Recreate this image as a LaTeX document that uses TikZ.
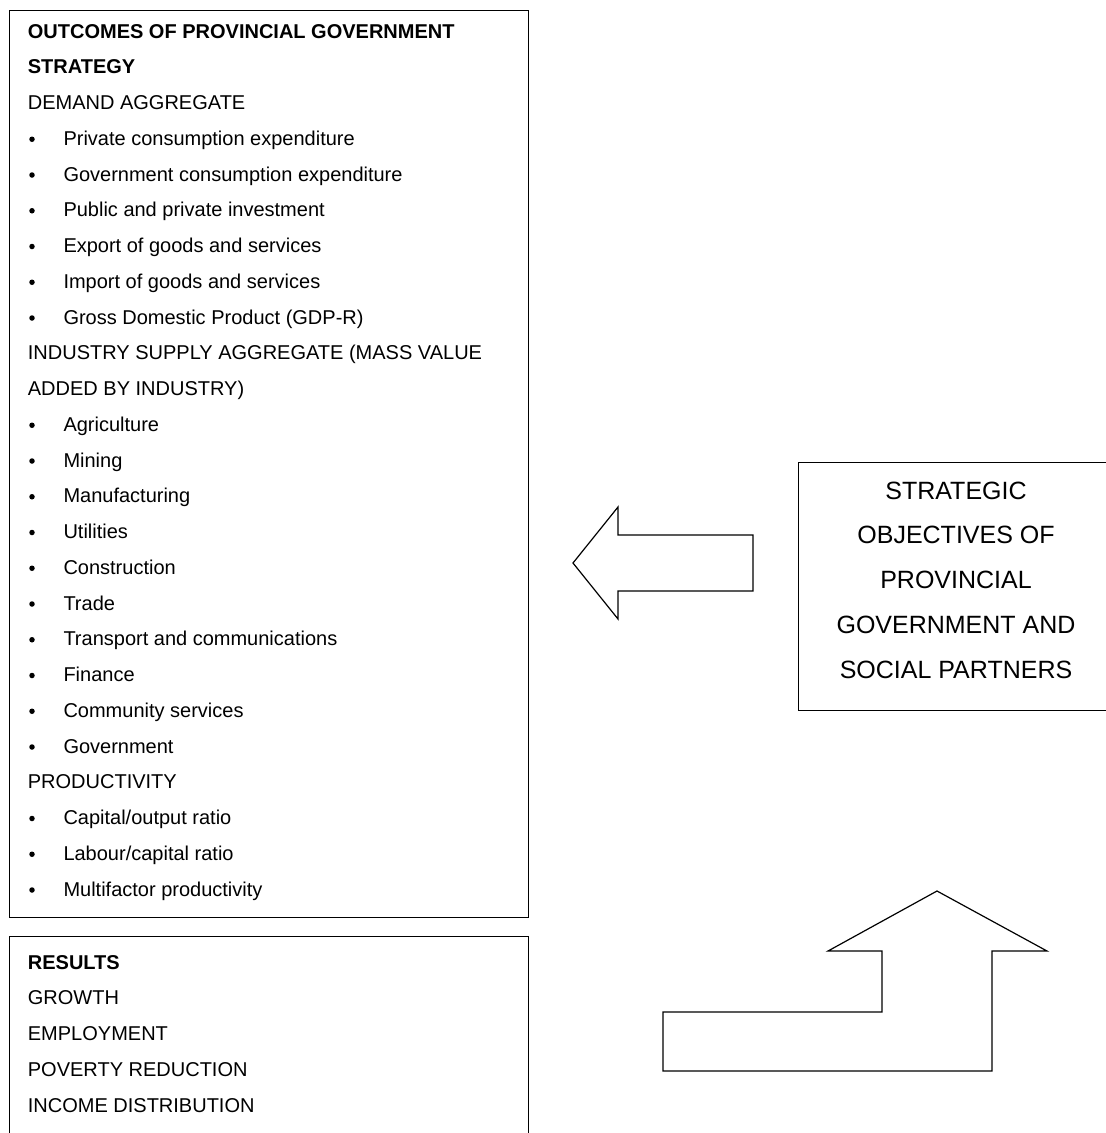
\documentclass[tikz,border=0pt]{standalone}
\usepackage{fontspec}
\setmainfont{Liberation Sans}
\begin{document}
\begin{tikzpicture}[x=1pt,y=-1pt,
  box/.style={draw, line width=1.2pt, inner sep=0pt, anchor=north west},
  txt/.style={anchor=base west, inner sep=0pt, font=\fontsize{20}{24}\selectfont},
  boldtxt/.style={txt, font=\fontsize{20}{24}\selectfont\bfseries},
  dot/.style={circle, fill=black, inner sep=0pt, minimum size=5.5pt},
  bigtxt/.style={anchor=base, inner sep=0pt, font=\fontsize{25}{30}\selectfont},
  arrowshape/.style={draw, line width=1.2pt, line join=miter}]
\clip (0,0) rectangle (1106,1133);
\fill[white] (0,0) rectangle (1106,1133);

% boxes
\node[box, minimum width=519pt, minimum height=907pt] (outbox) at (9,10) {};
\node[box, minimum width=519pt, minimum height=230pt] (resbox) at (9,936) {};
\node[box, minimum width=320pt, minimum height=248pt] (objbox) at (798,462) {};

% outcomes box text
\foreach \i/\t in {0/{OUTCOMES OF PROVINCIAL GOVERNMENT}, 1/{STRATEGY}}
  \node[boldtxt] (l\i) at (27.7,{38+35.75*\i}) {\t};
\foreach \i/\t in {2/{DEMAND AGGREGATE}, 9/{INDUSTRY SUPPLY AGGREGATE (MASS VALUE}, 10/{ADDED BY INDUSTRY)}, 21/{PRODUCTIVITY}}
  \node[txt] (l\i) at (27.7,{38+35.75*\i}) {\t};
\foreach \i/\t in {3/{Private consumption expenditure}, 4/{Government consumption expenditure}, 5/{Public and private investment}, 6/{Export of goods and services}, 7/{Import of goods and services}, 8/{Gross Domestic Product (GDP-R)}, 11/{Agriculture}, 12/{Mining}, 13/{Manufacturing}, 14/{Utilities}, 15/{Construction}, 16/{Trade}, 17/{Transport and communications}, 18/{Finance}, 19/{Community services}, 20/{Government}, 22/{Capital/output ratio}, 23/{Labour/capital ratio}, 24/{Multifactor productivity}}
  {\node[dot] (b\i) at (32,{32+35.75*\i}) {};
   \node[txt] (l\i) at (63.3,{38+35.75*\i}) {\t};}

% results box text
\node[boldtxt] (r0) at (27.7,969) {RESULTS};
\foreach \i/\t in {1/{GROWTH}, 2/{EMPLOYMENT}, 3/{POVERTY REDUCTION}, 4/{INCOME DISTRIBUTION}}
  \node[txt] (r\i) at (27.7,{969+35.75*\i}) {\t};

% strategic objectives text
\foreach \i/\t in {0/{STRATEGIC}, 1/{OBJECTIVES OF}, 2/{PROVINCIAL}, 3/{GOVERNMENT AND}, 4/{SOCIAL PARTNERS}}
  \node[bigtxt] (s\i) at (956,{499+44.8*\i}) {\t};

% left block arrow
\draw[arrowshape] (573,563) -- (618,507) -- (618,535) -- (753,535) -- (753,591)
  -- (618,591) -- (618,619) -- cycle;

% bent up block arrow
\draw[arrowshape] (937,891) -- (1047,951) -- (992,951) -- (992,1071) -- (663,1071)
  -- (663,1012) -- (882,1012) -- (882,951) -- (828,951) -- cycle;
\end{tikzpicture}
\end{document}
